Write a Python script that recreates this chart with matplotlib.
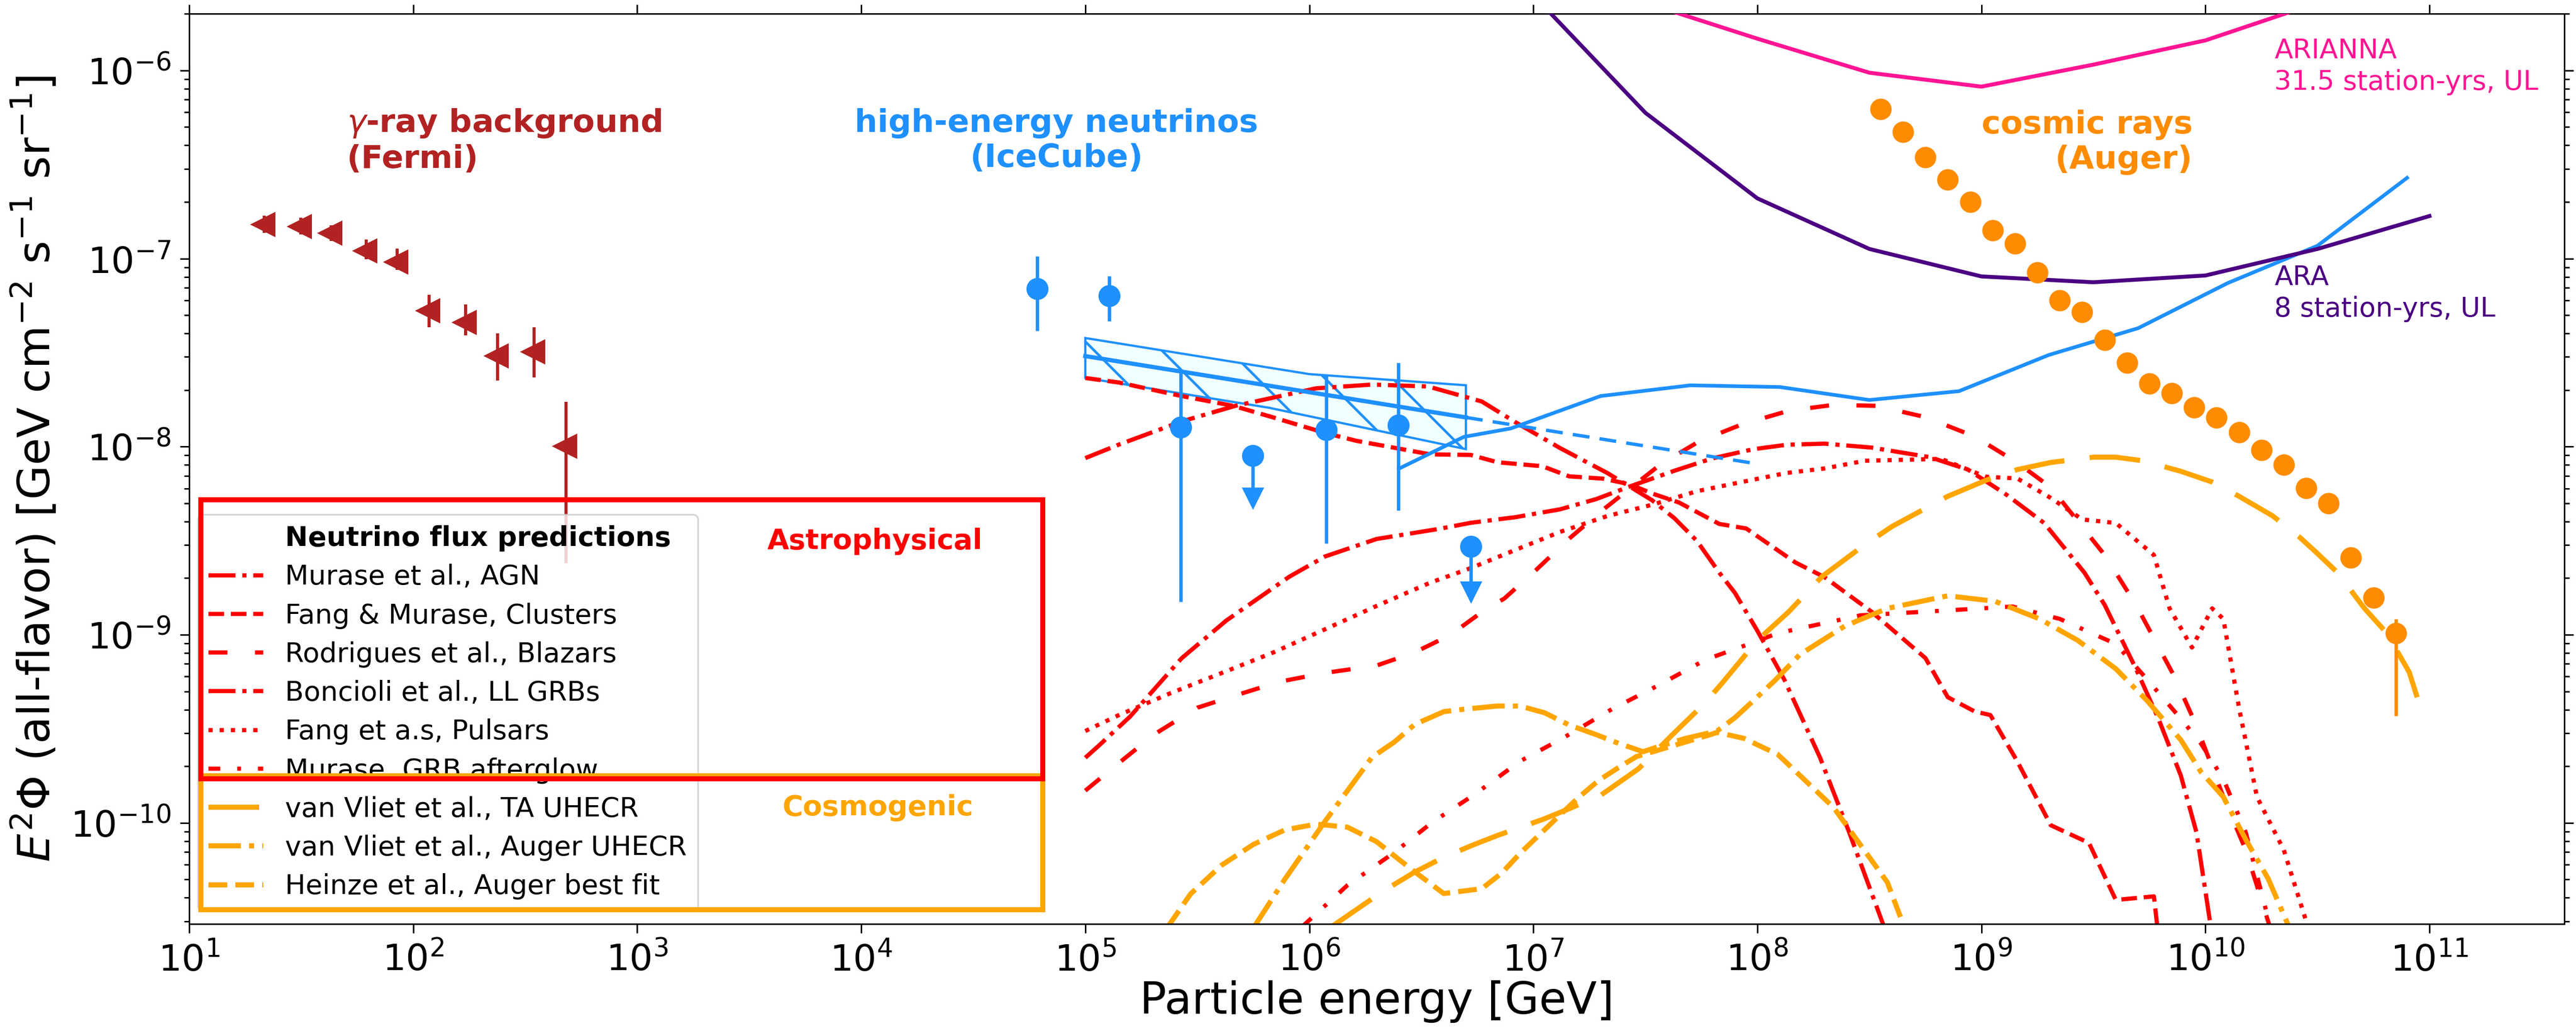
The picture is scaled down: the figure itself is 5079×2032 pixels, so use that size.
import numpy as np
import matplotlib.pyplot as plt
from matplotlib.lines import Line2D
from matplotlib.patches import Polygon, Rectangle
from matplotlib.ticker import LogLocator, NullLocator

plt.rcParams['font.family'] = 'DejaVu Sans'
plt.rcParams['hatch.linewidth'] = 0.45

# ---------------- data ----------------
# Fermi gamma-ray background
fermi_E = [21.6, 31.5, 43, 61.7, 84.7, 118, 171, 238, 346, 481]
fermi_F = [1.52e-7, 1.48e-7, 1.37e-7, 1.10e-7, 9.6e-8, 5.3e-8, 4.6e-8, 3.05e-8, 3.2e-8, 1.01e-8]
fermi_lo = [1.37e-7, 1.34e-7, 1.24e-7, 9.9e-8, 8.7e-8, 4.3e-8, 3.9e-8, 2.25e-8, 2.33e-8, 2.4e-9]
fermi_hi = [1.69e-7, 1.65e-7, 1.50e-7, 1.26e-7, 1.13e-7, 6.4e-8, 5.7e-8, 4.0e-8, 4.3e-8, 1.73e-8]

# IceCube data points
ic_E = [6.1e4, 1.28e5, 2.67e5, 1.19e6, 2.49e6]
ic_F = [6.9e-8, 6.35e-8, 1.27e-8, 1.23e-8, 1.30e-8]
ic_lo = [4.14e-8, 4.65e-8, 1.5e-9, 3.05e-9, 4.57e-9]
ic_hi = [1.03e-7, 8.1e-8, 2.47e-8, 2.41e-8, 2.8e-8]
ic_ul_E = [5.6e5, 5.25e6]
ic_ul_F = [8.97e-9, 2.95e-9]
ic_ul_tip = [5.4e-9, 1.72e-9]

# IceCube astrophysical fit band
band_up_E = [1e5, 1e6, 5e6]
band_up_F = [3.78e-8, 2.43e-8, 2.12e-8]
band_lo_E = [1e5, 6.6e5, 5e6]
band_lo_F = [2.32e-8, 1.61e-8, 9.7e-9]
fit_E = [1e5, 5e6]
fit_F = [3.03e-8, 1.43e-8]
fit_ext_E = [5e6, 1e8]
fit_ext_F = [1.43e-8, 8.1e-9]

# IceCube (EHE) limit, solid blue
icl_lgE = [6.4, 6.69, 6.9, 7.3, 7.7, 8.1, 8.5, 8.9, 9.3, 9.7, 10.1, 10.5, 10.9]
icl_lgF = [-8.117, -7.948, -7.903, -7.731, -7.674, -7.683, -7.752, -7.705, -7.513, -7.370,
           -7.130, -6.932, -6.571]

# Auger cosmic rays
auger_lgE = [8.55, 8.65, 8.75, 8.85, 8.95, 9.05, 9.15, 9.25, 9.35, 9.45, 9.55, 9.65,
             9.75, 9.85, 9.95, 10.05, 10.15, 10.25, 10.35, 10.45, 10.55, 10.65, 10.75, 10.85]
auger_lgF = [-6.206, -6.327, -6.462, -6.579, -6.700, -6.849, -6.920, -7.074, -7.221, -7.284,
             -7.434, -7.554, -7.666, -7.717, -7.791, -7.846, -7.924, -8.018, -8.096, -8.221,
             -8.300, -8.589, -8.803, -8.992]
auger_last_lo = 3.7e-10
auger_last_hi = 1.21e-9

# radio upper limits
ara_lgE = [7.0, 7.5, 8.0, 8.5, 9.0, 9.5, 10.0, 10.5, 11.0]
ara_lgF = [-5.60, -6.225, -6.68, -6.949, -7.095, -7.126, -7.09, -6.949, -6.774]
arianna_lgE = [7.5, 8.0, 8.5, 9.0, 9.5, 10.0, 10.5]
arianna_lgF = [-5.64, -5.831, -6.012, -6.086, -5.969, -5.840, -5.64]

# astrophysical neutrino models
agn_lgE = [5.0, 5.06, 5.2, 5.43, 5.63, 5.91, 6.07, 6.3, 6.58, 6.72, 6.92, 7.12, 7.28, 7.43,
           7.63, 7.80, 7.98, 8.13, 8.30, 8.51, 8.77, 8.94, 9.11, 9.28, 9.46, 9.55, 9.69,
           9.79, 9.89, 9.96, 10.03]
agn_lgF = [-9.654, -9.590, -9.435, -9.125, -8.924, -8.692, -8.584, -8.491, -8.437, -8.405,
           -8.375, -8.333, -8.279, -8.212, -8.128, -8.062, -8.014, -7.990, -7.984, -8.005,
           -8.056, -8.122, -8.254, -8.406, -8.670, -8.841, -9.181, -9.446, -9.748, -10.051,
           -10.6]

clus_lgE = [5.0, 5.15, 5.43, 5.66, 5.84, 6.07, 6.21, 6.54, 6.72, 6.84, 7.04, 7.16, 7.31,
            7.43, 7.53, 7.65, 7.83, 7.95, 8.03, 8.17, 8.30, 8.51, 8.75, 8.85, 8.97, 9.04,
            9.16, 9.31, 9.48, 9.60, 9.77, 9.79]
clus_lgF = [-7.635, -7.659, -7.731, -7.783, -7.845, -7.927, -7.969, -8.041, -8.044, -8.083,
            -8.104, -8.158, -8.170, -8.200, -8.249, -8.297, -8.411, -8.435, -8.501, -8.616,
            -8.694, -8.878, -9.124, -9.332, -9.408, -9.427, -9.673, -10.013, -10.107,
            -10.410, -10.391, -10.6]

blaz_lgE = [5.0, 5.15, 5.31, 5.5, 5.68, 5.87, 6.07, 6.3, 6.47, 6.63, 6.79, 6.87, 7.01,
            7.16, 7.32, 7.57, 7.74, 7.93, 8.14, 8.34, 8.53, 8.75, 8.97, 9.16, 9.31, 9.55,
            9.69, 9.86, 9.96, 10.08, 10.18, 10.30]
blaz_lgF = [-9.829, -9.682, -9.528, -9.388, -9.319, -9.249, -9.203, -9.164, -9.094, -9.001,
            -8.862, -8.808, -8.658, -8.489, -8.327, -8.092, -7.972, -7.882, -7.809, -7.778,
            -7.783, -7.843, -7.946, -8.085, -8.217, -8.576, -8.841, -9.219, -9.484, -9.862,
            -10.145, -10.6]

llgrb_lgE = [5.0, 5.15, 5.43, 5.67, 6.03, 6.28, 6.53, 6.77, 6.92, 7.12, 7.33, 7.43, 7.53,
             7.63, 7.73, 7.83, 7.90, 8.0, 8.12, 8.28, 8.41, 8.58]
llgrb_lgF = [-8.061, -7.989, -7.866, -7.783, -7.690, -7.670, -7.680, -7.760, -7.870, -8.008,
             -8.140, -8.212, -8.285, -8.381, -8.501, -8.670, -8.778, -8.979, -9.238, -9.654,
             -10.051, -10.6]

puls_lgE = [5.0, 5.15, 5.38, 5.61, 5.84, 6.07, 6.3, 6.54, 6.72, 6.92, 7.12, 7.33, 7.53,
            7.73, 7.93, 8.13, 8.30, 8.48, 8.82, 9.02, 9.16, 9.31, 9.45, 9.60, 9.77, 9.84,
            9.94, 10.03, 10.08, 10.15, 10.23, 10.35, 10.47]
puls_lgF = [-9.512, -9.427, -9.311, -9.203, -9.094, -8.971, -8.847, -8.723, -8.646, -8.549,
            -8.453, -8.369, -8.309, -8.237, -8.188, -8.140, -8.116, -8.075, -8.065, -8.160,
            -8.169, -8.273, -8.387, -8.406, -8.576, -8.860, -9.068, -8.860, -8.916, -9.389,
            -9.862, -10.145, -10.6]

grbag_lgE = [5.97, 6.17, 6.38, 6.55, 6.74, 6.94, 7.14, 7.35, 7.55, 7.77, 7.98, 8.09, 8.46,
             8.87, 9.14, 9.35, 9.60, 9.74, 9.89, 9.98, 10.08, 10.18, 10.30]
grbag_lgF = [-10.55, -10.332, -10.157, -9.996, -9.847, -9.673, -9.544, -9.396, -9.274,
             -9.132, -9.042, -8.992, -8.897, -8.869, -8.850, -8.916, -9.049, -9.238, -9.446,
             -9.578, -9.767, -10.051, -10.6]

# cosmogenic neutrino models
ta_lgE = [6.09, 6.33, 6.47, 6.6, 6.73, 6.84, 7.04, 7.16, 7.30, 7.47, 7.61, 7.76, 7.84, 8.0,
          8.14, 8.29, 8.46, 8.60, 8.85, 9.02, 9.16, 9.31, 9.50, 9.60, 9.72, 9.89, 10.03,
          10.15, 10.30, 10.42, 10.49, 10.59, 10.71, 10.81, 10.91, 10.95]
ta_lgF = [-10.56, -10.363, -10.262, -10.183, -10.118, -10.067, -9.983, -9.925, -9.854,
          -9.712, -9.544, -9.370, -9.261, -9.030, -8.878, -8.689, -8.538, -8.425, -8.264,
          -8.179, -8.122, -8.084, -8.056, -8.056, -8.075, -8.131, -8.188, -8.264, -8.368,
          -8.481, -8.557, -8.670, -8.860, -8.992, -9.200, -9.351]

augnu_lgE = [5.75, 5.89, 6.07, 6.28, 6.38, 6.47, 6.6, 6.69, 6.84, 6.94, 7.05, 7.16, 7.28,
             7.38, 7.49, 7.57, 7.68, 7.82, 7.90, 7.97, 8.08, 8.19, 8.39, 8.58, 8.85, 9.06,
             9.26, 9.43, 9.60, 9.74, 9.89, 9.98, 10.08, 10.18, 10.28, 10.39]
augnu_lgF = [-10.56, -10.301, -9.992, -9.651, -9.570, -9.477, -9.409, -9.396, -9.379,
             -9.379, -9.415, -9.480, -9.531, -9.577, -9.622, -9.590, -9.551, -9.512, -9.441,
             -9.364, -9.241, -9.105, -8.954, -8.860, -8.793, -8.822, -8.916, -9.030, -9.181,
             -9.351, -9.559, -9.729, -9.862, -10.089, -10.297, -10.6]

heinze_lgE = [5.37, 5.47, 5.61, 5.75, 5.89, 6.03, 6.17, 6.30, 6.38, 6.47, 6.60, 6.77, 6.86,
              6.94, 7.03, 7.12, 7.20, 7.29, 7.38, 7.46, 7.57, 7.68, 7.79, 7.82, 7.94, 8.03,
              8.09, 8.34, 8.58, 8.67]
heinze_lgF = [-10.55, -10.378, -10.224, -10.115, -10.038, -10.007, -10.023, -10.100,
              -10.176, -10.260, -10.376, -10.350, -10.266, -10.163, -10.060, -9.957, -9.867,
              -9.776, -9.706, -9.648, -9.609, -9.570, -9.531, -9.519, -9.551, -9.602,
              -9.635, -9.918, -10.316, -10.6]

legend_labels = ['Neutrino flux predictions',
                 'Murase et al., AGN', 'Fang & Murase, Clusters', 'Rodrigues et al., Blazars',
                 'Boncioli et al., LL GRBs', 'Fang et a.s, Pulsars', 'Murase, GRB afterglow',
                 'van Vliet et al., TA UHECR', 'van Vliet et al., Auger UHECR',
                 'Heinze et al., Auger best fit']


def p10(a):
    return 10 ** np.asarray(a, dtype=float)


# ---------------- figure ----------------
fig = plt.figure(figsize=(5079 / 800, 2032 / 800), dpi=800)
ax = fig.add_axes([0.07344, 0.10384, 0.92203, 0.88273])
ax.set_xscale('log')
ax.set_yscale('log')

red_lw = 0.75
or_lw = 0.9

# Fermi
fF = np.array(fermi_F)
ax.errorbar(fermi_E, fF, yerr=[fF - np.array(fermi_lo), np.array(fermi_hi) - fF],
            fmt='<', color='firebrick', ms=2.8, elinewidth=0.55, capsize=0, zorder=3)

# IceCube band and fit
poly = np.column_stack([np.concatenate([band_up_E, band_lo_E[::-1]]),
                        np.concatenate([band_up_F, band_lo_F[::-1]])])
ax.add_patch(Polygon(poly, closed=True, facecolor='azure', edgecolor='dodgerblue',
                     hatch='\\\\', lw=0.4, zorder=2))
ax.plot(fit_E, fit_F, color='dodgerblue', lw=0.75, zorder=3)
ax.plot(fit_ext_E, fit_ext_F, color='dodgerblue', lw=0.6, ls=(0, (5, 3)), zorder=3)

# IceCube points
iF = np.array(ic_F)
ax.errorbar(ic_E, iF, yerr=[iF - np.array(ic_lo), np.array(ic_hi) - iF], fmt='o',
            color='dodgerblue', ms=2.9, elinewidth=0.6, capsize=0, zorder=4)
uF = np.array(ic_ul_F)
ax.errorbar(ic_ul_E, uF, yerr=[uF - np.array(ic_ul_tip), np.zeros(len(uF))], fmt='o',
            color='dodgerblue', ms=2.9, elinewidth=0.6, capsize=0, zorder=4)
ax.plot(ic_ul_E, ic_ul_tip, 'v', color='dodgerblue', ms=2.3, zorder=4)

# IceCube limit
ax.plot(p10(icl_lgE), p10(icl_lgF), color='dodgerblue', lw=0.65, zorder=3)

# radio limits
ax.plot(p10(ara_lgE), p10(ara_lgF), color='indigo', lw=0.7, zorder=3)
ax.plot(p10(arianna_lgE), p10(arianna_lgF), color='deeppink', lw=0.7, zorder=3)

# Auger
aE = p10(auger_lgE)
aF = p10(auger_lgF)
lo = np.zeros(len(aF))
hi = np.zeros(len(aF))
lo[-1] = aF[-1] - auger_last_lo
hi[-1] = auger_last_hi - aF[-1]
ax.errorbar(aE, aF, yerr=[lo, hi], fmt='o', color='darkorange', ms=2.8,
            elinewidth=0.6, capsize=0, zorder=4)

# model curves
l_agn, = ax.plot(p10(agn_lgE), p10(agn_lgF), color='red', lw=red_lw, ls='-.')
l_clus, = ax.plot(p10(clus_lgE), p10(clus_lgF), color='red', lw=red_lw, ls='--')
l_blaz, = ax.plot(p10(blaz_lgE), p10(blaz_lgF), color='red', lw=red_lw, ls=(0, (4.5, 6.5)))
l_llgrb, = ax.plot(p10(llgrb_lgE), p10(llgrb_lgF), color='red', lw=red_lw, ls='-.')
l_puls, = ax.plot(p10(puls_lgE), p10(puls_lgF), color='red', lw=red_lw, ls=':')
l_grbag, = ax.plot(p10(grbag_lgE), p10(grbag_lgF), color='red', lw=red_lw,
                   ls=(0, (2.8, 4, 0.9, 4)))
l_ta, = ax.plot(p10(ta_lgE), p10(ta_lgF), color='orange', lw=or_lw, ls=(0, (10, 5)))
l_augnu, = ax.plot(p10(augnu_lgE), p10(augnu_lgF), color='orange', lw=or_lw, ls='-.')
l_hein, = ax.plot(p10(heinze_lgE), p10(heinze_lgF), color='orange', lw=or_lw, ls='--')

# axes
ax.set_xlim(10, 4e11)
ax.set_ylim(2.9e-11, 2e-6)
ax.xaxis.set_major_locator(LogLocator(base=10, numticks=20))
ax.xaxis.set_minor_locator(NullLocator())
ax.tick_params(which='both', direction='out', top=True, right=True, width=0.27,
               labelsize=6.5, pad=1.6)
ax.tick_params(which='major', length=1.6)
ax.tick_params(which='minor', length=0.9)
for s in ax.spines.values():
    s.set_linewidth(0.27)
ax.set_xlabel('Particle energy [GeV]', fontsize=7.9)
ax.set_ylabel(r'$E^2\Phi$ (all-flavor) [GeV cm$^{-2}$ s$^{-1}$ sr$^{-1}$]', fontsize=7.9)
ax.xaxis.set_label_coords(0.5, -0.062)
ax.yaxis.set_label_coords(-0.0547, 0.5)

# annotations
ax.text(0.0664, 0.8605, r'$\gamma$-ray background' + '\n(Fermi)', transform=ax.transAxes,
        color='firebrick', fontsize=5.7, fontweight='bold', ha='left', va='center')
ax.text(0.3651, 0.8605, 'high-energy neutrinos\n(IceCube)', transform=ax.transAxes,
        color='dodgerblue', fontsize=5.7, fontweight='bold', ha='center', va='center',
        multialignment='center')
ax.text(0.8435, 0.859, 'cosmic rays\n(Auger)', transform=ax.transAxes,
        color='darkorange', fontsize=5.7, fontweight='bold', ha='right', va='center',
        multialignment='right')
ax.text(0.8779, 0.942, 'ARIANNA\n31.5 station-yrs, UL', transform=ax.transAxes,
        color='deeppink', fontsize=4.8, ha='left', va='center', linespacing=1.25)
ax.text(0.8779, 0.693, 'ARA\n8 station-yrs, UL', transform=ax.transAxes,
        color='indigo', fontsize=4.8, ha='left', va='center', linespacing=1.25)

# legend
blank = Line2D([], [], color='none')
handles = [blank, l_agn, l_clus, l_blaz, l_llgrb, l_puls, l_grbag, l_ta, l_augnu, l_hein]
leg = ax.legend(handles, legend_labels, loc='lower left', bbox_to_anchor=(0.0036, 0.0145),
                borderaxespad=0, fontsize=4.85, labelspacing=0.45, handlelength=2.0,
                handletextpad=0.8, borderpad=0.4)
leg.get_frame().set_linewidth(0.3)
leg.get_texts()[0].set_fontweight('bold')

ax.add_patch(Rectangle((0.0049, 0.0156), 0.3545, 0.1472, transform=ax.transAxes,
                       fill=False, edgecolor='orange', lw=0.9, zorder=6, clip_on=False))
ax.add_patch(Rectangle((0.0049, 0.1594), 0.3545, 0.3067, transform=ax.transAxes,
                       fill=False, edgecolor='red', lw=0.9, zorder=6, clip_on=False))
ax.text(0.2887, 0.4206, 'Astrophysical', transform=ax.transAxes, color='red',
        fontsize=5.0, fontweight='bold', ha='center', va='center', zorder=7)
ax.text(0.2898, 0.1277, 'Cosmogenic', transform=ax.transAxes, color='orange',
        fontsize=5.0, fontweight='bold', ha='center', va='center', zorder=7)

fig.savefig('out.png', dpi=800)
